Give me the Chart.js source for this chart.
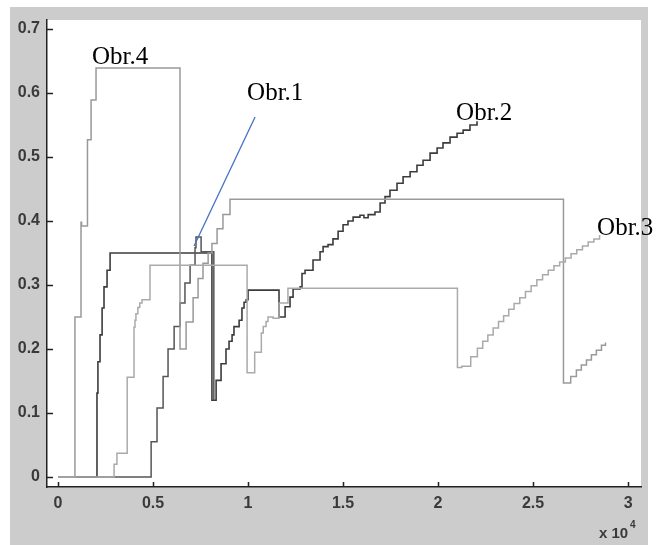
<!DOCTYPE html>
<html>
<head>
<meta charset="utf-8">
<script src="https://cdn.jsdelivr.net/npm/chart.js@4.4.1/dist/chart.umd.min.js"></script>
<style>
html,body{margin:0;padding:0;background:#ffffff;}
#wrap{width:658px;height:545px;position:relative;}
canvas{display:block;}
</style>
</head>
<body>
<div id="wrap"><canvas id="c" width="658" height="545"></canvas></div>
<script>
// ---- axis ticks ----
const xTicks = [0, 0.5, 1, 1.5, 2, 2.5, 3];
const xTickLabels = ['0', '0.5', '1', '1.5', '2', '2.5', '3'];
const yTicks = [0, 0.1, 0.2, 0.3, 0.4, 0.5, 0.6, 0.7];
const yTickLabels = ['0', '0.1', '0.2', '0.3', '0.4', '0.5', '0.6', '0.7'];
const xExponentLabel = 'x 10';
const xExponent = '4';

// ---- series (x in units of 10^4; each point = where the value steps to y) ----
const obr4X = [0, 0.089, 0.121, 0.124, 0.155, 0.174, 0.2, 0.642, 0.674, 0.711, 0.737, 0.763, 0.79, 0.81, 0.837, 0.868, 0.905, 2.66, 2.698, 2.728, 2.754, 2.781, 2.807, 2.833, 2.86, 2.881];
const obr4Y = [0, 0.25, 0.398, 0.392, 0.527, 0.589, 0.639, 0.2, 0.242, 0.28, 0.31, 0.334, 0.35, 0.365, 0.388, 0.41, 0.434, 0.147, 0.157, 0.167, 0.175, 0.183, 0.191, 0.198, 0.206, 0.21];

const obr3X = [0, 0.295, 0.31, 0.364, 0.40, 0.405, 0.41, 0.42, 0.43, 0.442, 0.484, 0.995, 1.035, 1.07, 1.08, 1.095, 1.105, 1.132, 1.163, 1.21, 2.102, 2.125, 2.172, 2.207, 2.235, 2.262, 2.29, 2.318, 2.345, 2.372, 2.40, 2.43, 2.46, 2.49, 2.52, 2.55, 2.58, 2.61, 2.64, 2.67, 2.70, 2.73, 2.76, 2.79, 2.82, 2.85];
const obr3Y = [0, 0.02, 0.037, 0.156, 0.234, 0.245, 0.255, 0.265, 0.272, 0.277, 0.331, 0.163, 0.195, 0.225, 0.235, 0.243, 0.25, 0.248, 0.272, 0.295, 0.171, 0.173, 0.188, 0.201, 0.212, 0.222, 0.233, 0.243, 0.252, 0.262, 0.271, 0.28, 0.29, 0.299, 0.308, 0.316, 0.323, 0.33, 0.336, 0.342, 0.349, 0.355, 0.361, 0.367, 0.372, 0.378];

const obr2X = [0, 0.205, 0.21, 0.221, 0.232, 0.242, 0.258, 0.274, 0.81, 0.832, 0.858, 0.884, 0.9, 0.916, 0.926, 0.953, 0.968, 0.979, 0.99, 1.0, 1.163, 1.195, 1.221, 1.237, 1.274, 1.284, 1.3, 1.342, 1.379, 1.395, 1.421, 1.447, 1.474, 1.5, 1.526, 1.553, 1.589, 1.61, 1.632, 1.668, 1.695, 1.721, 1.747, 1.784, 1.816, 1.853, 1.889, 1.921, 1.958, 1.995, 2.026, 2.063, 2.1, 2.132, 2.168, 2.205];
const obr2Y = [0, 0.131, 0.18, 0.222, 0.264, 0.297, 0.323, 0.35, 0.12, 0.151, 0.177, 0.2, 0.212, 0.222, 0.235, 0.245, 0.264, 0.273, 0.277, 0.292, 0.25, 0.266, 0.281, 0.294, 0.297, 0.318, 0.323, 0.339, 0.352, 0.36, 0.363, 0.372, 0.384, 0.394, 0.40, 0.406, 0.409, 0.405, 0.41, 0.414, 0.428, 0.438, 0.448, 0.459, 0.469, 0.477, 0.487, 0.495, 0.506, 0.514, 0.522, 0.531, 0.537, 0.542, 0.55, 0.556];

const obr1X = [0, 0.49, 0.521, 0.553, 0.579, 0.611, 0.642, 0.668, 0.695, 0.721, 0.726, 0.753, 0.82];
const obr1Y = [0, 0.055, 0.108, 0.157, 0.2, 0.235, 0.272, 0.303, 0.331, 0.358, 0.375, 0.352, 0.12];

// ---- annotations (data coordinates) ----
const labelNames = ['Obr.4', 'Obr.1', 'Obr.2', 'Obr.3'];
const labelX = [0.179, 0.995, 2.095, 2.837];
const labelY = [0.645, 0.589, 0.558, 0.378];
const pointerFrom = [1.037, 0.5625];
const pointerTo = [0.716, 0.361];

function pts(xs, ys) { return xs.map((x, i) => ({x: x, y: ys[i]})); }

const tickFont = {family: "'Liberation Sans', Arial, sans-serif", size: 16, weight: 'bold'};
const tickColor = '#3a3a3a';

const framePlugin = {
  id: 'frame',
  beforeDraw(chart) {
    const {ctx, chartArea: a} = chart;
    ctx.save();
    ctx.fillStyle = '#ffffff';
    ctx.fillRect(0, 0, chart.width, chart.height);
    ctx.fillStyle = '#cccccc';
    ctx.fillRect(a.left - 37, a.top - 13, (a.right + 7) - (a.left - 37), chart.height - (a.top - 13));
    ctx.fillStyle = '#ffffff';
    ctx.fillRect(a.left, a.top, a.right - a.left, a.bottom - a.top);
    ctx.restore();
  },
  afterDraw(chart) {
    const {ctx, chartArea: a, scales} = chart;
    const sx = scales.x, sy = scales.y;
    ctx.save();
    // inward ticks
    ctx.strokeStyle = '#222';
    ctx.lineWidth = 1.5;
    ctx.beginPath();
    xTicks.forEach(v => {
      const px = Math.round(sx.getPixelForValue(v)) + 0.5;
      ctx.moveTo(px, a.bottom);
      ctx.lineTo(px, a.bottom - 5);
    });
    yTicks.forEach(v => {
      const py = Math.round(sy.getPixelForValue(v)) + 0.5;
      ctx.moveTo(a.left, py);
      ctx.lineTo(a.left + 6, py);
    });
    ctx.stroke();
    // exponent label
    ctx.fillStyle = tickColor;
    ctx.font = "bold 15px 'Liberation Sans', Arial, sans-serif";
    ctx.textAlign = 'left';
    ctx.textBaseline = 'alphabetic';
    ctx.fillText(xExponentLabel, a.right - 42, a.bottom + 51);
    ctx.font = "bold 10px 'Liberation Sans', Arial, sans-serif";
    ctx.fillText(xExponent, a.right - 11, a.bottom + 41);
    // pointer line
    ctx.strokeStyle = '#4472c4';
    ctx.lineWidth = 1.3;
    ctx.beginPath();
    ctx.moveTo(sx.getPixelForValue(pointerFrom[0]), sy.getPixelForValue(pointerFrom[1]));
    ctx.lineTo(sx.getPixelForValue(pointerTo[0]), sy.getPixelForValue(pointerTo[1]));
    ctx.stroke();
    // labels
    ctx.fillStyle = '#000';
    ctx.font = "25px 'Liberation Serif', 'Times New Roman', serif";
    labelNames.forEach((t, i) => {
      ctx.fillText(t, sx.getPixelForValue(labelX[i]), sy.getPixelForValue(labelY[i]));
    });
    ctx.restore();
  }
};

function ds(label, xs, ys, color, width) {
  return {
    label: label,
    data: pts(xs, ys),
    showLine: true,
    stepped: true,
    borderColor: color,
    borderWidth: width,
    pointRadius: 0,
    fill: false,
    tension: 0
  };
}

new Chart(document.getElementById('c'), {
  type: 'scatter',
  data: {
    datasets: [
      ds('Obr.3', obr3X, obr3Y, '#aaaaaa', 1.5),
      ds('Obr.4', obr4X, obr4Y, '#999999', 1.5),
      ds('Obr.1', obr1X, obr1Y, '#555555', 1.5),
      ds('Obr.2', obr2X, obr2Y, '#3c3c3c', 1.6)
    ]
  },
  options: {
    responsive: false,
    animation: false,
    devicePixelRatio: 1,
    layout: {padding: {top: 20, right: 17, left: 0, bottom: 0}},
    plugins: {legend: {display: false}, tooltip: {enabled: false}},
    scales: {
      x: {
        type: 'linear',
        min: -0.058,
        max: 3.068,
        afterBuildTicks: s => { s.ticks = xTicks.map(v => ({value: v})); },
        afterFit: s => { s.height = 58; },
        grid: {display: false, drawTicks: false},
        border: {display: true, color: '#222', width: 1.5},
        ticks: {
          padding: 7, autoSkip: false, maxRotation: 0,
          font: tickFont, color: tickColor,
          callback: (v, i) => xTickLabels[i]
        }
      },
      y: {
        type: 'linear',
        min: -0.0156,
        max: 0.714,
        afterBuildTicks: s => { s.ticks = yTicks.map(v => ({value: v})); },
        afterFit: s => { s.width = 47; },
        grid: {display: false, drawTicks: false},
        border: {display: true, color: '#222', width: 1.5},
        ticks: {
          padding: 7, autoSkip: false,
          font: tickFont, color: tickColor,
          callback: (v, i) => yTickLabels[i]
        }
      }
    }
  },
  plugins: [framePlugin]
});
</script>
</body>
</html>
